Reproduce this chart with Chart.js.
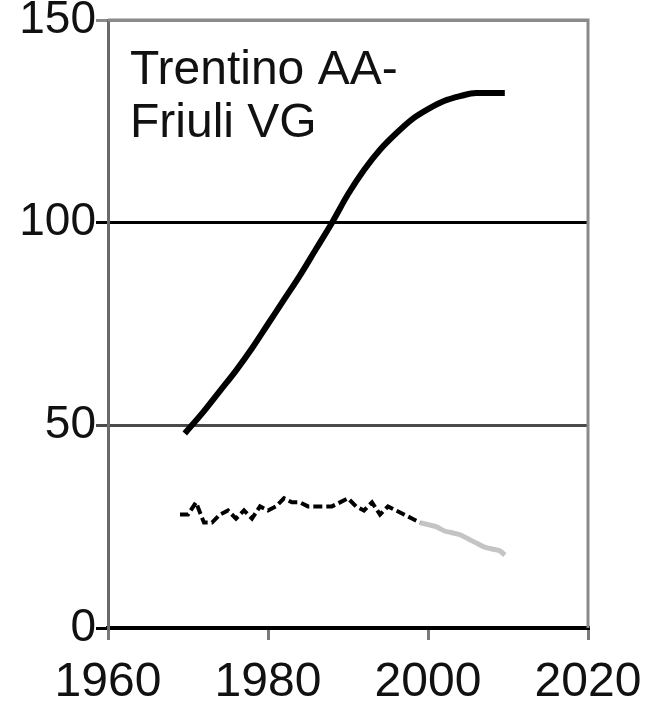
<!DOCTYPE html>
<html lang="it">
  <head>
    <meta charset="UTF-8" />
    <title>Trentino AA - Friuli VG</title>
    <script src="https://cdn.jsdelivr.net/npm/chart.js"></script>
    <style>
      body {
        margin: 0;
        background: #fff;
      }
      #wrap {
        width: 645px;
        height: 703px;
      }
    </style>
  </head>
  <body>
    <div id="wrap"><canvas id="chart"></canvas></div>

    <script>
      // data
      const upperYears = [1969.6, 1972, 1974, 1976, 1978, 1980, 1982, 1984, 1986, 1988, 1990, 1992, 1994, 1996, 1998, 2000, 2002, 2004, 2006, 2008, 2009.6];
      const upperValues = [48, 53.5, 58.5, 63.5, 69, 75, 81, 87, 93.5, 100, 107, 113, 118, 122, 125.5, 128, 130, 131.2, 132, 132, 132];

      const lowerYears = [1969, 1970, 1971, 1972, 1973, 1974, 1975, 1976, 1977, 1978, 1979, 1980, 1981, 1982, 1983, 1984, 1985, 1986, 1987, 1988, 1989, 1990, 1991, 1992, 1993, 1994, 1995, 1996, 1997, 1998, 1999];
      const lowerValues = [28, 28, 31, 26, 26, 28, 29, 27, 29, 27, 30, 29, 30, 32, 31, 31, 30, 30, 30, 30, 31, 32, 30, 29, 31, 28, 30, 29, 28, 27, 26];

      const trendYears = [1999, 2000, 2001, 2002, 2003, 2004, 2005, 2006, 2007, 2008, 2009, 2009.6];
      const trendValues = [26, 25.5, 25, 24, 23.5, 23, 22, 21, 20, 19.5, 19, 18];

      const xTicks = [1960, 1980, 2000, 2020];
      const yTicks = [0, 50, 100, 150];
      const titleLines = ["Trentino AA-", "Friuli VG"];

      const pts = (xs, ys) => xs.map((x, i) => ({ x: x, y: ys[i] }));

      const frame = {
        id: "frame",
        beforeDatasetsDraw(chart) {
          const { ctx, chartArea: a } = chart;
          ctx.save();
          ctx.strokeStyle = "#8a8a8a";
          ctx.lineWidth = 3;
          ctx.beginPath();
          ctx.moveTo(a.left, a.top);
          ctx.lineTo(a.right, a.top);
          ctx.lineTo(a.right, a.bottom);
          ctx.stroke();
          ctx.restore();
        },
        afterDraw(chart) {
          const { ctx, chartArea: a } = chart;
          ctx.save();
          ctx.fillStyle = "#111";
          ctx.font = "48px 'Liberation Sans', Arial, sans-serif";
          ctx.textBaseline = "alphabetic";
          titleLines.forEach((t, i) => ctx.fillText(t, a.left + 22, a.top + 64 + i * 53));
          ctx.restore();
        },
      };

      new Chart(document.getElementById("chart"), {
        type: "line",
        data: {
          datasets: [
            {
              data: pts(upperYears, upperValues),
              borderColor: "#000",
              borderWidth: 6,
              pointRadius: 0,
              cubicInterpolationMode: "monotone",
            },
            {
              data: pts(lowerYears, lowerValues),
              borderColor: "#000",
              borderWidth: 4,
              borderDash: [9, 4],
              pointRadius: 0,
              tension: 0,
            },
            {
              data: pts(trendYears, trendValues),
              borderColor: "#c4c4c4",
              borderWidth: 5,
              pointRadius: 0,
              cubicInterpolationMode: "monotone",
            },
          ],
        },
        plugins: [frame],
        options: {
          responsive: true,
          maintainAspectRatio: false,
          animation: false,
          layout: { padding: { top: 20, right: 57, left: 0, bottom: 0 } },
          plugins: {
            legend: { display: false },
            tooltip: { enabled: false },
          },
          scales: {
            x: {
              type: "linear",
              min: 1960,
              max: 2020,
              afterBuildTicks: (s) => {
                s.ticks = xTicks.map((v) => ({ value: v }));
              },
              afterFit: (s) => {
                s.height = 75;
                s.paddingLeft = 0;
                s.paddingRight = 0;
              },
              ticks: {
                color: "#111",
                padding: 14,
                maxRotation: 0,
                callback: (v) => String(v),
                font: { family: "'Liberation Sans', Arial, sans-serif", size: 48 },
              },
              grid: {
                drawOnChartArea: false,
                tickLength: 12,
                color: "#7a7a7a",
                lineWidth: 3,
              },
              border: { color: "#000", width: 4 },
            },
            y: {
              min: 0,
              max: 150,
              afterBuildTicks: (s) => {
                s.ticks = yTicks.map((v) => ({ value: v }));
              },
              afterFit: (s) => {
                s.width = 108;
                s.paddingTop = 0;
                s.paddingBottom = 0;
              },
              ticks: {
                color: "#111",
                padding: 0,
                font: { family: "'Liberation Sans', Arial, sans-serif", size: 46 },
              },
              grid: {
                tickLength: 12,
                lineWidth: 3,
                color: (c) => {
                  const v = c.tick && c.tick.value;
                  if (v === 150) return "#8a8a8a";
                  if (v === 50) return "#4a4a4a";
                  return "#000";
                },
              },
              border: { color: "#6a6a6a", width: 3 },
            },
          },
        },
      });
    </script>
  </body>
</html>
